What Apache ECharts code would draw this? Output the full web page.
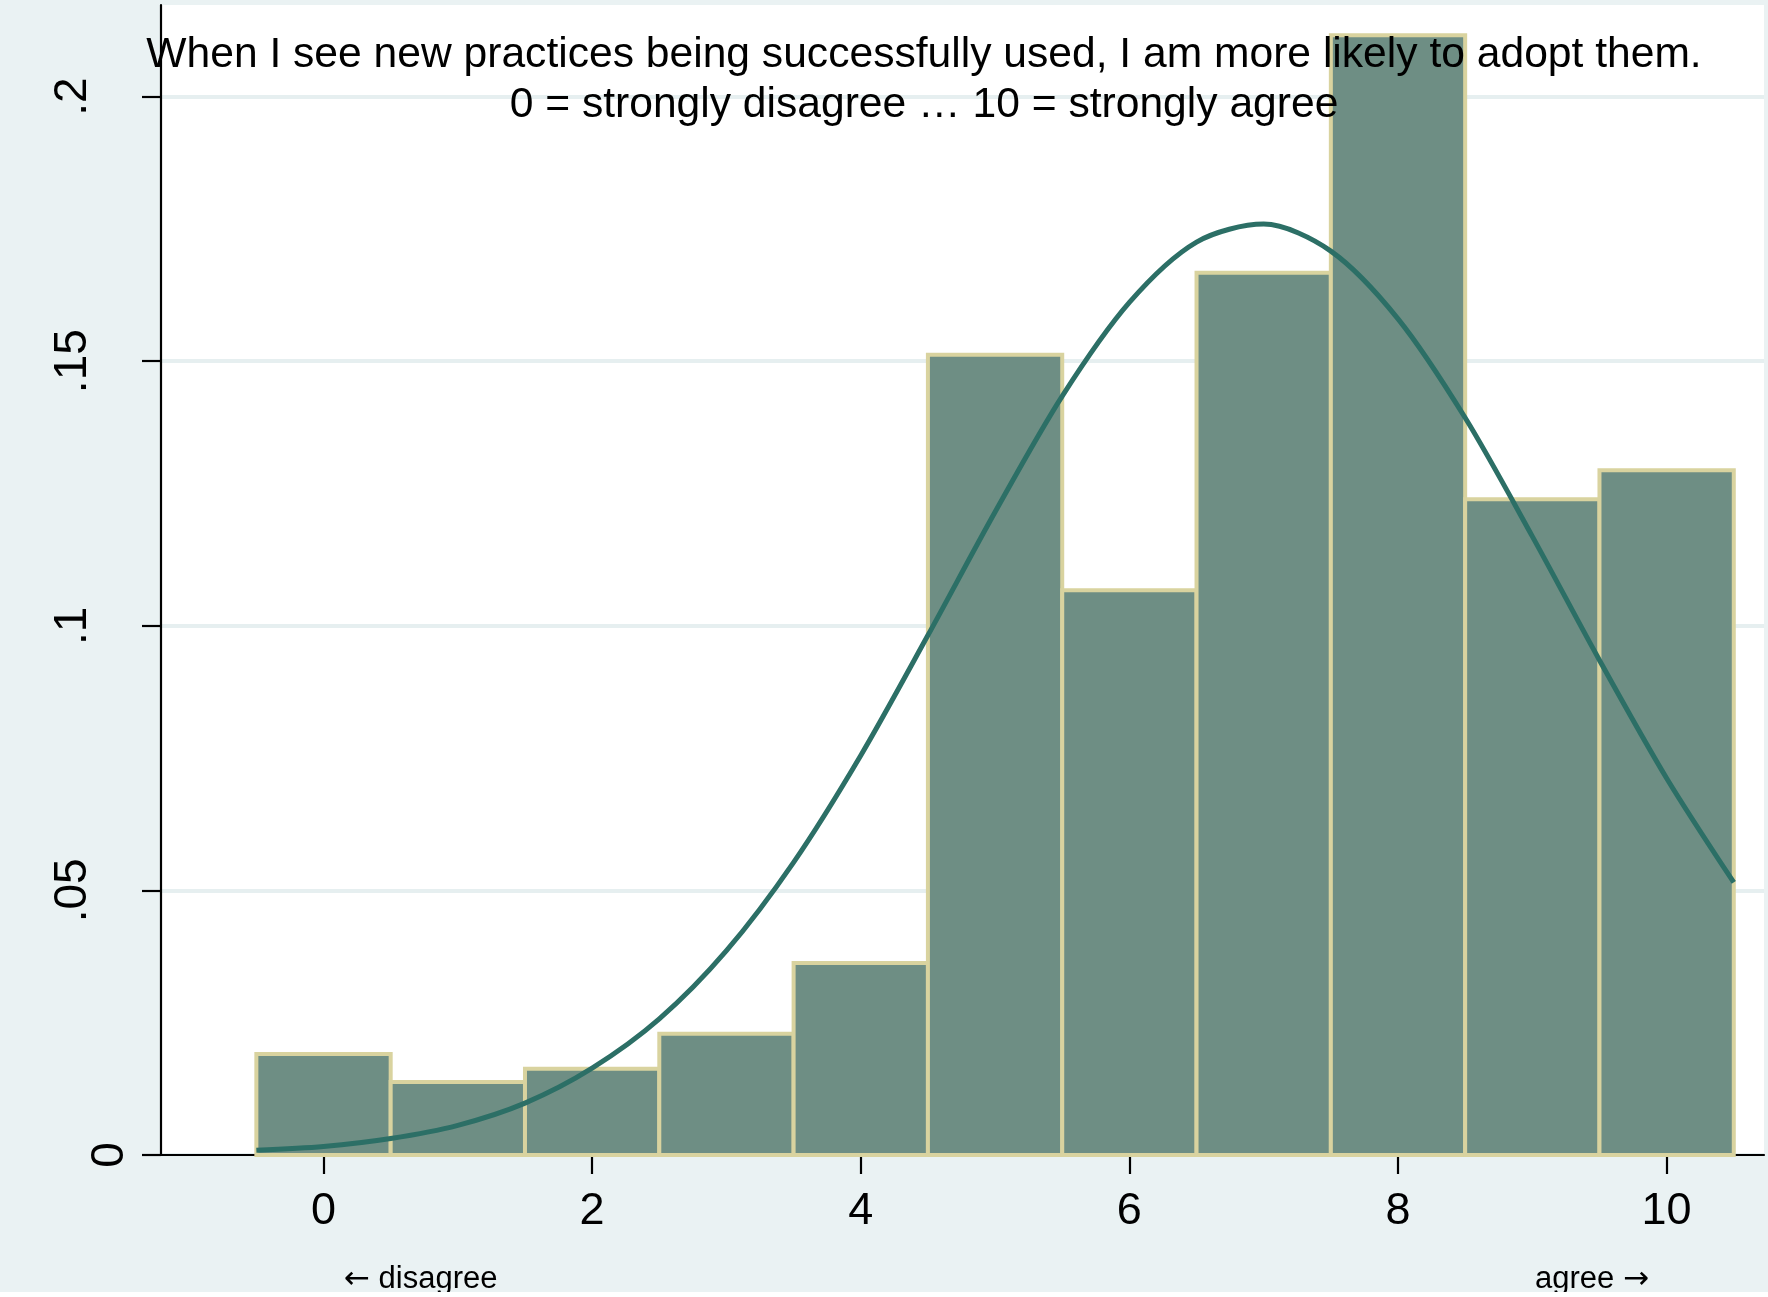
<!DOCTYPE html>
<html>
<head>
<meta charset="utf-8">
<script src="https://cdn.jsdelivr.net/npm/echarts@6/dist/echarts.min.js"></script>
<style>
  html, body { margin: 0; padding: 0; background: #ffffff; }
  #chart { width: 1768px; height: 1297px; }
</style>
</head>
<body>
<div id="chart"></div>
<script>
// ---- data ----
const binCenters = [0, 1, 2, 3, 4, 5, 6, 7, 8, 9, 10];
const binWidth = 1;
const densities = [0.0191, 0.0138, 0.0163, 0.0229, 0.0363, 0.1512, 0.1067, 0.1667, 0.2116, 0.1239, 0.1294];

const curveX = [-0.5, 0, 0.5, 1, 1.5, 2, 2.5, 3, 3.5, 4, 4.5, 5, 5.5, 6, 6.5, 7, 7.5, 8, 8.5, 9, 9.5, 10, 10.5];
const curveY = [0.0009, 0.0016, 0.0031, 0.0056, 0.0098, 0.0164, 0.0257, 0.0386, 0.0553, 0.0755, 0.0982,
                0.1215, 0.1434, 0.1611, 0.1725, 0.1759, 0.1708, 0.1580, 0.1393, 0.1169, 0.0935, 0.0712, 0.0515];

const xTickValues = [0, 2, 4, 6, 8, 10];
const xTickLabels = ['0', '2', '4', '6', '8', '10'];
const yTickValues = [0, 0.05, 0.1, 0.15, 0.2];
const yTickLabels = ['0', '.05', '.1', '.15', '.2'];

const titleLine1 = 'When I see new practices being successfully used, I am more likely to adopt them.';
const titleLine2 = '0 = strongly disagree \u2026 10 = strongly agree';
const leftArrow = '\u2190', leftWord = 'disagree';
const rightWord = 'agree', rightArrow = '\u2192';

// ---- styles ----
const FONT = '"Liberation Sans", Arial, Helvetica, sans-serif';
const ARROW_FONT = '"DejaVu Sans", sans-serif';
const outerBg = '#EAF2F3';
const barFill = '#6E8E84';
const barEdge = '#D9D39F';
const curveColor = '#2C6F66';

const chart = echarts.init(document.getElementById('chart'), null, { renderer: 'canvas' });

const noteRich = {
  w: { fontFamily: FONT, fontSize: 31, color: '#000' },
  arr: { fontFamily: ARROW_FONT, fontSize: 31, color: '#000' }
};

const option = {
  animation: false,
  backgroundColor: outerBg,
  title: {
    text: titleLine1 + '\n' + titleLine2,
    left: 924,
    top: 30,
    textAlign: 'center',
    padding: 0,
    textStyle: { fontFamily: FONT, fontSize: 42.6, fontWeight: 'normal', color: '#000', lineHeight: 50 }
  },
  grid: {
    left: 161, right: 4, top: 5, bottom: 142,
    show: true, backgroundColor: '#ffffff', borderWidth: 0
  },
  xAxis: {
    type: 'value',
    min: -1.21, max: 10.725,
    axisLine: { show: true, onZero: false, lineStyle: { color: '#000', width: 2.2 } },
    axisTick: { show: true, length: 19, lineStyle: { color: '#000', width: 2.2 }, customValues: xTickValues },
    axisLabel: {
      customValues: xTickValues,
      margin: 34,
      fontFamily: FONT, fontSize: 45, color: '#000',
      formatter: v => xTickLabels[xTickValues.indexOf(v)]
    },
    splitLine: { show: false }
  },
  yAxis: {
    type: 'value',
    min: 0, max: 0.2173,
    axisLine: { show: true, onZero: false, lineStyle: { color: '#000', width: 2.2 } },
    axisTick: { show: true, length: 19, lineStyle: { color: '#000', width: 2.2 }, customValues: yTickValues },
    axisLabel: {
      customValues: yTickValues,
      rotate: 90,
      margin: 28,
      fontFamily: FONT, fontSize: 46, color: '#000',
      formatter: v => {
        const i = yTickValues.findIndex(t => Math.abs(t - v) < 1e-9);
        const lab = yTickLabels[i];
        return v === 0 ? '{z|' + lab + '}' : '{a|' + lab + '}';
      },
      rich: {
        a: { fontFamily: FONT, fontSize: 46, color: '#000', padding: [0, 0, 37, 0] },
        z: { fontFamily: FONT, fontSize: 46, color: '#000' }
      }
    },
    splitLine: { show: true, lineStyle: { color: '#E6EFF0', width: 4 } }
  },
  series: [
    {
      type: 'custom',
      z: 2,
      data: binCenters.map((c, i) => [c, densities[i]]),
      renderItem: (params, api) => {
        const c = api.value(0), h = api.value(1);
        const p0 = api.coord([c - binWidth / 2, h]);
        const p1 = api.coord([c + binWidth / 2, 0]);
        return {
          type: 'rect',
          shape: { x: p0[0], y: p0[1], width: p1[0] - p0[0], height: p1[1] - p0[1] },
          style: { fill: barFill, stroke: barEdge, lineWidth: 4 }
        };
      }
    },
    {
      type: 'line',
      z: 3,
      smooth: 0.3,
      symbol: 'none',
      lineStyle: { color: curveColor, width: 5 },
      data: curveX.map((x, i) => [x, curveY[i]])
    }
  ],
  graphic: [
    {
      type: 'text', left: 344, top: 1264, z: 10,
      style: { text: '{arr|' + leftArrow + '}{w| ' + leftWord + '}', rich: noteRich }
    },
    {
      type: 'text', left: 1535, top: 1264, z: 10,
      style: { text: '{w|' + rightWord + ' }{arr|' + rightArrow + '}', rich: noteRich }
    },
    {
      type: 'rect', left: 0, top: 1292, z: 100,
      shape: { width: 1768, height: 5 },
      style: { fill: '#ffffff' }
    }
  ]
};

chart.setOption(option);
</script>
</body>
</html>
